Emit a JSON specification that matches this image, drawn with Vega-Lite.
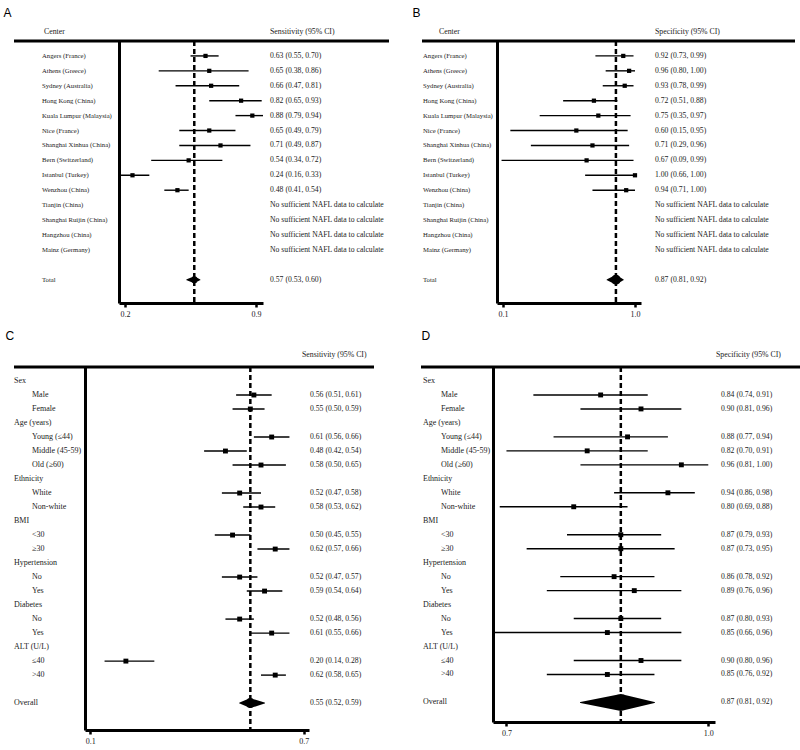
{
"$schema":"https://vega.github.io/schema/vega-lite/v6.json",
"padding":{"left":3,"top":7,"right":2,"bottom":2},
"config":{"view":{"stroke":null},"title":{"font":"Liberation Sans","fontSize":12,"fontWeight":"normal","color":"black","anchor":"start","offset":8}},
"datasets":{
"A":[
{"id":"angers","label":"Angers (France)","est":0.63,"lo":0.55,"hi":0.70},
{"id":"athens","label":"Athens (Greece)","est":0.65,"lo":0.38,"hi":0.86},
{"id":"sydney","label":"Sydney (Australia)","est":0.66,"lo":0.47,"hi":0.81},
{"id":"hk","label":"Hong Kong (China)","est":0.82,"lo":0.65,"hi":0.93},
{"id":"kl","label":"Kuala Lumpur (Malaysia)","est":0.88,"lo":0.79,"hi":0.94},
{"id":"nice","label":"Nice (France)","est":0.65,"lo":0.49,"hi":0.79},
{"id":"sx","label":"Shanghai Xinhua (China)","est":0.71,"lo":0.49,"hi":0.87},
{"id":"bern","label":"Bern (Switzerland)","est":0.54,"lo":0.34,"hi":0.72},
{"id":"istanbul","label":"Istanbul (Turkey)","est":0.24,"lo":0.16,"hi":0.33},
{"id":"wenzhou","label":"Wenzhou (China)","est":0.48,"lo":0.41,"hi":0.54},
{"id":"tianjin","label":"Tianjin (China)","note":"No sufficient NAFL data to calculate"},
{"id":"ruijin","label":"Shanghai Ruijin (China)","note":"No sufficient NAFL data to calculate"},
{"id":"hangzhou","label":"Hangzhou (China)","note":"No sufficient NAFL data to calculate"},
{"id":"mainz","label":"Mainz (Germany)","note":"No sufficient NAFL data to calculate"},
{"id":"total","label":"Total","est":0.57,"lo":0.53,"hi":0.60,"pooled":true}
],
"B":[
{"id":"angers","label":"Angers (France)","est":0.92,"lo":0.73,"hi":0.99},
{"id":"athens","label":"Athens (Greece)","est":0.96,"lo":0.80,"hi":1.00},
{"id":"sydney","label":"Sydney (Australia)","est":0.93,"lo":0.78,"hi":0.99},
{"id":"hk","label":"Hong Kong (China)","est":0.72,"lo":0.51,"hi":0.88},
{"id":"kl","label":"Kuala Lumpur (Malaysia)","est":0.75,"lo":0.35,"hi":0.97},
{"id":"nice","label":"Nice (France)","est":0.60,"lo":0.15,"hi":0.95},
{"id":"sx","label":"Shanghai Xinhua (China)","est":0.71,"lo":0.29,"hi":0.96},
{"id":"bern","label":"Bern (Switzerland)","est":0.67,"lo":0.09,"hi":0.99},
{"id":"istanbul","label":"Istanbul (Turkey)","est":1.00,"lo":0.66,"hi":1.00},
{"id":"wenzhou","label":"Wenzhou (China)","est":0.94,"lo":0.71,"hi":1.00},
{"id":"tianjin","label":"Tianjin (China)","note":"No sufficient NAFL data to calculate"},
{"id":"ruijin","label":"Shanghai Ruijin (China)","note":"No sufficient NAFL data to calculate"},
{"id":"hangzhou","label":"Hangzhou (China)","note":"No sufficient NAFL data to calculate"},
{"id":"mainz","label":"Mainz (Germany)","note":"No sufficient NAFL data to calculate"},
{"id":"total","label":"Total","est":0.87,"lo":0.81,"hi":0.92,"pooled":true}
],
"C":[
{"id":"sex","label":"Sex","heading":true},
{"id":"male","label":"Male","est":0.56,"lo":0.51,"hi":0.61},
{"id":"female","label":"Female","est":0.55,"lo":0.50,"hi":0.59},
{"id":"age","label":"Age (years)","heading":true},
{"id":"young","label":"Young (≤44)","est":0.61,"lo":0.56,"hi":0.66},
{"id":"middle","label":"Middle (45-59)","est":0.48,"lo":0.42,"hi":0.54},
{"id":"old","label":"Old (≥60)","est":0.58,"lo":0.50,"hi":0.65},
{"id":"eth","label":"Ethnicity","heading":true},
{"id":"white","label":"White","est":0.52,"lo":0.47,"hi":0.58},
{"id":"nonwhite","label":"Non-white","est":0.58,"lo":0.53,"hi":0.62},
{"id":"bmi","label":"BMI","heading":true},
{"id":"bmi_lo","label":"<30","est":0.50,"lo":0.45,"hi":0.55},
{"id":"bmi_hi","label":"≥30","est":0.62,"lo":0.57,"hi":0.66},
{"id":"ht","label":"Hypertension","heading":true},
{"id":"ht_no","label":"No","est":0.52,"lo":0.47,"hi":0.57},
{"id":"ht_yes","label":"Yes","est":0.59,"lo":0.54,"hi":0.64},
{"id":"db","label":"Diabetes","heading":true},
{"id":"db_no","label":"No","est":0.52,"lo":0.48,"hi":0.56},
{"id":"db_yes","label":"Yes","est":0.61,"lo":0.55,"hi":0.66},
{"id":"alt","label":"ALT (U/L)","heading":true},
{"id":"alt_lo","label":"≤40","est":0.20,"lo":0.14,"hi":0.28},
{"id":"alt_hi","label":">40","est":0.62,"lo":0.58,"hi":0.65},
{"id":"overall","label":"Overall","est":0.55,"lo":0.52,"hi":0.59,"pooled":true}
],
"D":[
{"id":"sex","label":"Sex","heading":true},
{"id":"male","label":"Male","est":0.84,"lo":0.74,"hi":0.91},
{"id":"female","label":"Female","est":0.90,"lo":0.81,"hi":0.96},
{"id":"age","label":"Age (years)","heading":true},
{"id":"young","label":"Young (≤44)","est":0.88,"lo":0.77,"hi":0.94},
{"id":"middle","label":"Middle (45-59)","est":0.82,"lo":0.70,"hi":0.91},
{"id":"old","label":"Old (≥60)","est":0.96,"lo":0.81,"hi":1.00},
{"id":"eth","label":"Ethnicity","heading":true},
{"id":"white","label":"White","est":0.94,"lo":0.86,"hi":0.98},
{"id":"nonwhite","label":"Non-white","est":0.80,"lo":0.69,"hi":0.88},
{"id":"bmi","label":"BMI","heading":true},
{"id":"bmi_lo","label":"<30","est":0.87,"lo":0.79,"hi":0.93},
{"id":"bmi_hi","label":"≥30","est":0.87,"lo":0.73,"hi":0.95},
{"id":"ht","label":"Hypertension","heading":true},
{"id":"ht_no","label":"No","est":0.86,"lo":0.78,"hi":0.92},
{"id":"ht_yes","label":"Yes","est":0.89,"lo":0.76,"hi":0.96},
{"id":"db","label":"Diabetes","heading":true},
{"id":"db_no","label":"No","est":0.87,"lo":0.80,"hi":0.93},
{"id":"db_yes","label":"Yes","est":0.85,"lo":0.66,"hi":0.96},
{"id":"alt","label":"ALT (U/L)","heading":true},
{"id":"alt_lo","label":"≤40","est":0.90,"lo":0.80,"hi":0.96},
{"id":"alt_hi","label":">40","est":0.85,"lo":0.76,"hi":0.92},
{"id":"overall","label":"Overall","est":0.87,"lo":0.81,"hi":0.92,"pooled":true}
]
},
"spacing":12,
"vconcat":[
{"spacing":21,"hconcat":[
{"title":{"text":"A","dx":-9},"spacing":0,"bounds":"flush","hconcat":[
 {"width":105,"height":262,"data":{"name":"A"},"layer":[
  {"mark":{"type":"text","align":"left","baseline":"middle","x":28,"font":"Liberation Serif","fontSize":6.7,"fill":"#222"},
   "encoding":{"y":{"field":"id","type":"nominal","scale":{"type":"point","domain":["hdr","angers","athens","sydney","hk","kl","nice","sx","bern","istanbul","wenzhou","tianjin","ruijin","hangzhou","mainz","gap","total"],"padding":0.78,"align":0},"axis":null},"text":{"field":"label"}}},
  {"data":{"values":[{}]},"mark":{"type":"rule","strokeWidth":3,"color":"black"},"encoding":{"y":{"datum":"hdr","type":"nominal","axis":null}}},
  {"data":{"values":[{"h":"Center"}]},"mark":{"type":"text","align":"left","baseline":"bottom","dy":-5,"x":30,"font":"Liberation Serif","fontSize":7.8,"fill":"#222"},"encoding":{"y":{"datum":"hdr","type":"nominal","axis":null},"text":{"field":"h"}}}
 ]},
 {"width":144,"height":262,"data":{"name":"A"},"layer":[
  {"data":{"values":[{}]},"mark":{"type":"rule","strokeWidth":3,"color":"black"},"encoding":{"y":{"datum":"hdr","type":"nominal","scale":{"type":"point","domain":["hdr","angers","athens","sydney","hk","kl","nice","sx","bern","istanbul","wenzhou","tianjin","ruijin","hangzhou","mainz","gap","total"],"padding":0.78,"align":0},"axis":{"title":null,"labels":false,"ticks":false,"grid":false,"domainWidth":3,"domainColor":"black"}}}},
  {"transform":[{"filter":"datum.pooled"}],"mark":{"type":"rule","strokeDash":[5,3],"strokeWidth":2.5,"color":"black"},"encoding":{"x":{"field":"est","type":"quantitative","scale":{"domain":[0.168,0.937],"nice":false,"zero":false},"axis":{"values":[0.2,0.9],"format":".1f","title":null,"grid":false,"domainWidth":3,"domainColor":"black","tickColor":"black","tickWidth":2.5,"tickSize":4,"labelFont":"Liberation Serif","labelFontSize":8,"labelColor":"#222","labelPadding":3,"labelFlush":false,"labelOverlap":false}}}},
  {"transform":[{"filter":"datum.est != null && !datum.pooled"}],"mark":{"type":"rule","strokeWidth":1.4,"color":"black","clip":true},"encoding":{"x":{"field":"lo","type":"quantitative"},"x2":{"field":"hi"},"y":{"field":"id","type":"nominal"}}},
  {"transform":[{"filter":"datum.est != null && !datum.pooled"}],"mark":{"type":"point","shape":"square","filled":true,"size":18,"color":"black","opacity":1,"clip":true},"encoding":{"x":{"field":"est","type":"quantitative"},"y":{"field":"id","type":"nominal"}}},
  {"transform":[{"filter":"datum.pooled"},{"fold":["lo","est","hi"],"as":["k","v"]}],"mark":{"type":"trail","color":"black"},"encoding":{"x":{"field":"v","type":"quantitative"},"y":{"field":"id","type":"nominal"},"order":{"field":"v","type":"quantitative"},"size":{"condition":{"test":"datum.k === 'est'","value":7},"value":0}}}
 ]},
 {"width":126,"height":262,"data":{"name":"A"},"layer":[
  {"transform":[{"calculate":"datum.est != null ? format(datum.est,'.2f') + ' (' + format(datum.lo,'.2f') + ', ' + format(datum.hi,'.2f') + ')' : (datum.note ? datum.note : '')","as":"txt"},{"filter":"datum.txt != ''"}],"mark":{"type":"text","align":"left","baseline":"middle","x":7,"font":"Liberation Serif","fontSize":7.7,"fill":"#222"},
   "encoding":{"y":{"field":"id","type":"nominal","scale":{"type":"point","domain":["hdr","angers","athens","sydney","hk","kl","nice","sx","bern","istanbul","wenzhou","tianjin","ruijin","hangzhou","mainz","gap","total"],"padding":0.78,"align":0},"axis":null},"text":{"field":"txt"}}},
  {"data":{"values":[{}]},"mark":{"type":"rule","strokeWidth":3,"color":"black"},"encoding":{"y":{"datum":"hdr","type":"nominal","axis":null}}},
  {"data":{"values":[{"h":"Sensitivity (95% CI)"}]},"mark":{"type":"text","align":"left","baseline":"bottom","dy":-5,"x":7,"font":"Liberation Serif","fontSize":7.8,"fill":"#222"},"encoding":{"y":{"datum":"hdr","type":"nominal","axis":null},"text":{"field":"h"}}}
 ]}
]},
{"title":{"text":"B","dx":-8},"spacing":0,"bounds":"flush","hconcat":[
 {"width":75,"height":262,"data":{"name":"B"},"layer":[
  {"mark":{"type":"text","align":"left","baseline":"middle","x":1,"font":"Liberation Serif","fontSize":6.7,"fill":"#222"},
   "encoding":{"y":{"field":"id","type":"nominal","scale":{"type":"point","domain":["hdr","angers","athens","sydney","hk","kl","nice","sx","bern","istanbul","wenzhou","tianjin","ruijin","hangzhou","mainz","gap","total"],"padding":0.78,"align":0},"axis":null},"text":{"field":"label"}}},
  {"data":{"values":[{}]},"mark":{"type":"rule","strokeWidth":3,"color":"black"},"encoding":{"y":{"datum":"hdr","type":"nominal","axis":null}}},
  {"data":{"values":[{"h":"Center"}]},"mark":{"type":"text","align":"left","baseline":"bottom","dy":-5,"x":17,"font":"Liberation Serif","fontSize":7.8,"fill":"#222"},"encoding":{"y":{"datum":"hdr","type":"nominal","axis":null},"text":{"field":"h"}}}
 ]},
 {"width":144,"height":262,"data":{"name":"B"},"layer":[
  {"data":{"values":[{}]},"mark":{"type":"rule","strokeWidth":3,"color":"black"},"encoding":{"y":{"datum":"hdr","type":"nominal","scale":{"type":"point","domain":["hdr","angers","athens","sydney","hk","kl","nice","sx","bern","istanbul","wenzhou","tianjin","ruijin","hangzhou","mainz","gap","total"],"padding":0.78,"align":0},"axis":{"title":null,"labels":false,"ticks":false,"grid":false,"domainWidth":3,"domainColor":"black"}}}},
  {"transform":[{"filter":"datum.pooled"}],"mark":{"type":"rule","strokeDash":[5,3],"strokeWidth":2.5,"color":"black"},"encoding":{"x":{"field":"est","type":"quantitative","scale":{"domain":[0.059,1.041],"nice":false,"zero":false},"axis":{"values":[0.1,1.0],"format":".1f","title":null,"grid":false,"domainWidth":3,"domainColor":"black","tickColor":"black","tickWidth":2.5,"tickSize":4,"labelFont":"Liberation Serif","labelFontSize":8,"labelColor":"#222","labelPadding":3,"labelFlush":false,"labelOverlap":false}}}},
  {"transform":[{"filter":"datum.est != null && !datum.pooled"}],"mark":{"type":"rule","strokeWidth":1.4,"color":"black","clip":true},"encoding":{"x":{"field":"lo","type":"quantitative"},"x2":{"field":"hi"},"y":{"field":"id","type":"nominal"}}},
  {"transform":[{"filter":"datum.est != null && !datum.pooled"}],"mark":{"type":"point","shape":"square","filled":true,"size":18,"color":"black","opacity":1,"clip":true},"encoding":{"x":{"field":"est","type":"quantitative"},"y":{"field":"id","type":"nominal"}}},
  {"transform":[{"filter":"datum.pooled"},{"fold":["lo","est","hi"],"as":["k","v"]}],"mark":{"type":"trail","color":"black"},"encoding":{"x":{"field":"v","type":"quantitative"},"y":{"field":"id","type":"nominal"},"order":{"field":"v","type":"quantitative"},"size":{"condition":{"test":"datum.k === 'est'","value":10},"value":0}}}
 ]},
 {"width":154,"height":262,"data":{"name":"B"},"layer":[
  {"transform":[{"calculate":"datum.est != null ? format(datum.est,'.2f') + ' (' + format(datum.lo,'.2f') + ', ' + format(datum.hi,'.2f') + ')' : (datum.note ? datum.note : '')","as":"txt"},{"filter":"datum.txt != ''"}],"mark":{"type":"text","align":"left","baseline":"middle","x":14,"font":"Liberation Serif","fontSize":7.7,"fill":"#222"},
   "encoding":{"y":{"field":"id","type":"nominal","scale":{"type":"point","domain":["hdr","angers","athens","sydney","hk","kl","nice","sx","bern","istanbul","wenzhou","tianjin","ruijin","hangzhou","mainz","gap","total"],"padding":0.78,"align":0},"axis":null},"text":{"field":"txt"}}},
  {"data":{"values":[{}]},"mark":{"type":"rule","strokeWidth":3,"color":"black"},"encoding":{"y":{"datum":"hdr","type":"nominal","axis":null}}},
  {"data":{"values":[{"h":"Specificity (95% CI)"}]},"mark":{"type":"text","align":"left","baseline":"bottom","dy":-5,"x":14,"font":"Liberation Serif","fontSize":7.8,"fill":"#222"},"encoding":{"y":{"datum":"hdr","type":"nominal","axis":null},"text":{"field":"h"}}}
 ]}
]}
]},
{"spacing":43,"hconcat":[
{"title":{"text":"C","dx":-7},"spacing":0,"bounds":"flush","hconcat":[
 {"width":71,"height":363,"data":{"name":"C"},"layer":[
  {"transform":[{"filter":"datum.heading || datum.pooled"}],"mark":{"type":"text","align":"left","baseline":"middle","x":0,"font":"Liberation Serif","fontSize":8,"fill":"#222"},
   "encoding":{"y":{"field":"id","type":"nominal","scale":{"type":"point","domain":["hdr","sex","male","female","age","young","middle","old","eth","white","nonwhite","bmi","bmi_lo","bmi_hi","ht","ht_no","ht_yes","db","db_no","db_yes","alt","alt_lo","alt_hi","gap","overall"],"padding":0.96,"align":0},"axis":null},"text":{"field":"label"}}},
  {"transform":[{"filter":"!datum.heading && !datum.pooled"}],"mark":{"type":"text","align":"left","baseline":"middle","x":18,"font":"Liberation Serif","fontSize":8,"fill":"#222"},
   "encoding":{"y":{"field":"id","type":"nominal","axis":null},"text":{"field":"label"}}},
  {"data":{"values":[{}]},"mark":{"type":"rule","strokeWidth":3,"color":"black"},"encoding":{"y":{"datum":"hdr","type":"nominal","axis":null}}}
 ]},
 {"width":224,"height":363,"data":{"name":"C"},"layer":[
  {"data":{"values":[{}]},"mark":{"type":"rule","strokeWidth":3,"color":"black"},"encoding":{"y":{"datum":"hdr","type":"nominal","scale":{"type":"point","domain":["hdr","sex","male","female","age","young","middle","old","eth","white","nonwhite","bmi","bmi_lo","bmi_hi","ht","ht_no","ht_yes","db","db_no","db_yes","alt","alt_lo","alt_hi","gap","overall"],"padding":0.96,"align":0},"axis":{"title":null,"labels":false,"ticks":false,"grid":false,"domainWidth":3,"domainColor":"black"}}}},
  {"transform":[{"filter":"datum.pooled"}],"mark":{"type":"rule","strokeDash":[5,3],"strokeWidth":2.5,"color":"black"},"encoding":{"x":{"field":"est","type":"quantitative","scale":{"domain":[0.085,0.715],"nice":false,"zero":false},"axis":{"values":[0.1,0.7],"format":".1f","title":null,"grid":false,"domainWidth":3,"domainColor":"black","tickColor":"black","tickWidth":2.5,"tickSize":4,"labelFont":"Liberation Serif","labelFontSize":8,"labelColor":"#222","labelPadding":3,"labelFlush":false,"labelOverlap":false}}}},
  {"transform":[{"filter":"datum.est != null && !datum.pooled"}],"mark":{"type":"rule","strokeWidth":1.4,"color":"black","clip":true},"encoding":{"x":{"field":"lo","type":"quantitative"},"x2":{"field":"hi"},"y":{"field":"id","type":"nominal"}}},
  {"transform":[{"filter":"datum.est != null && !datum.pooled"}],"mark":{"type":"point","shape":"square","filled":true,"size":24,"color":"black","opacity":1,"clip":true},"encoding":{"x":{"field":"est","type":"quantitative"},"y":{"field":"id","type":"nominal"}}},
  {"transform":[{"filter":"datum.pooled"},{"fold":["lo","est","hi"],"as":["k","v"]}],"mark":{"type":"trail","color":"black"},"encoding":{"x":{"field":"v","type":"quantitative"},"y":{"field":"id","type":"nominal"},"order":{"field":"v","type":"quantitative"},"size":{"condition":{"test":"datum.k === 'est'","value":10},"value":0}}}
 ]},
 {"width":65,"height":363,"data":{"name":"C"},"layer":[
  {"transform":[{"calculate":"datum.est != null ? format(datum.est,'.2f') + ' (' + format(datum.lo,'.2f') + ', ' + format(datum.hi,'.2f') + ')' : ''","as":"txt"},{"filter":"datum.txt != ''"}],"mark":{"type":"text","align":"left","baseline":"middle","x":1,"font":"Liberation Serif","fontSize":7.7,"fill":"#222"},
   "encoding":{"y":{"field":"id","type":"nominal","scale":{"type":"point","domain":["hdr","sex","male","female","age","young","middle","old","eth","white","nonwhite","bmi","bmi_lo","bmi_hi","ht","ht_no","ht_yes","db","db_no","db_yes","alt","alt_lo","alt_hi","gap","overall"],"padding":0.96,"align":0},"axis":null},"text":{"field":"txt"}}},
  {"data":{"values":[{}]},"mark":{"type":"rule","strokeWidth":3,"color":"black"},"encoding":{"y":{"datum":"hdr","type":"nominal","axis":null}}},
  {"data":{"values":[{"h":"Sensitivity (95% CI)"}]},"mark":{"type":"text","align":"left","baseline":"bottom","dy":-8,"x":-7,"font":"Liberation Serif","fontSize":7.8,"fill":"#222"},"encoding":{"y":{"datum":"hdr","type":"nominal","axis":null},"text":{"field":"h"}}}
 ]}
]},
{"title":{"text":"D","dx":2},"spacing":0,"bounds":"flush","hconcat":[
 {"width":72,"height":355,"data":{"name":"D"},"layer":[
  {"transform":[{"filter":"datum.heading || datum.pooled"}],"mark":{"type":"text","align":"left","baseline":"middle","x":2,"font":"Liberation Serif","fontSize":8,"fill":"#222"},
   "encoding":{"y":{"field":"id","type":"nominal","scale":{"type":"point","domain":["hdr","sex","male","female","age","young","middle","old","eth","white","nonwhite","bmi","bmi_lo","bmi_hi","ht","ht_no","ht_yes","db","db_no","db_yes","alt","alt_lo","alt_hi","gap","overall"],"padding":0.7,"align":0},"axis":null},"text":{"field":"label"}}},
  {"transform":[{"filter":"!datum.heading && !datum.pooled"}],"mark":{"type":"text","align":"left","baseline":"middle","x":20,"font":"Liberation Serif","fontSize":8,"fill":"#222"},
   "encoding":{"y":{"field":"id","type":"nominal","axis":null},"text":{"field":"label"}}},
  {"data":{"values":[{}]},"mark":{"type":"rule","strokeWidth":3,"color":"black"},"encoding":{"y":{"datum":"hdr","type":"nominal","axis":null}}}
 ]},
 {"width":222,"height":355,"data":{"name":"D"},"layer":[
  {"data":{"values":[{}]},"mark":{"type":"rule","strokeWidth":3,"color":"black"},"encoding":{"y":{"datum":"hdr","type":"nominal","scale":{"type":"point","domain":["hdr","sex","male","female","age","young","middle","old","eth","white","nonwhite","bmi","bmi_lo","bmi_hi","ht","ht_no","ht_yes","db","db_no","db_yes","alt","alt_lo","alt_hi","gap","overall"],"padding":0.7,"align":0},"axis":{"title":null,"labels":false,"ticks":false,"grid":false,"domainWidth":3,"domainColor":"black"}}}},
  {"transform":[{"filter":"datum.pooled"}],"mark":{"type":"rule","strokeDash":[5,3],"strokeWidth":2.5,"color":"black"},"encoding":{"x":{"field":"est","type":"quantitative","scale":{"domain":[0.68,1.01],"nice":false,"zero":false},"axis":{"values":[0.7,1.0],"format":".1f","title":null,"grid":false,"domainWidth":3,"domainColor":"black","tickColor":"black","tickWidth":2.5,"tickSize":4,"labelFont":"Liberation Serif","labelFontSize":8,"labelColor":"#222","labelPadding":3,"labelFlush":false,"labelOverlap":false}}}},
  {"transform":[{"filter":"datum.est != null && !datum.pooled"}],"mark":{"type":"rule","strokeWidth":1.4,"color":"black","clip":true},"encoding":{"x":{"field":"lo","type":"quantitative"},"x2":{"field":"hi"},"y":{"field":"id","type":"nominal"}}},
  {"transform":[{"filter":"datum.est != null && !datum.pooled"}],"mark":{"type":"point","shape":"square","filled":true,"size":24,"color":"black","opacity":1,"clip":true},"encoding":{"x":{"field":"est","type":"quantitative"},"y":{"field":"id","type":"nominal"}}},
  {"transform":[{"filter":"datum.pooled"},{"fold":["lo","est","hi"],"as":["k","v"]}],"mark":{"type":"trail","color":"black"},"encoding":{"x":{"field":"v","type":"quantitative"},"y":{"field":"id","type":"nominal"},"order":{"field":"v","type":"quantitative"},"size":{"condition":{"test":"datum.k === 'est'","value":17},"value":0}}}
 ]},
 {"width":86,"height":355,"data":{"name":"D"},"layer":[
  {"transform":[{"calculate":"datum.est != null ? format(datum.est,'.2f') + ' (' + format(datum.lo,'.2f') + ', ' + format(datum.hi,'.2f') + ')' : ''","as":"txt"},{"filter":"datum.txt != ''"}],"mark":{"type":"text","align":"left","baseline":"middle","x":6,"font":"Liberation Serif","fontSize":7.7,"fill":"#222"},
   "encoding":{"y":{"field":"id","type":"nominal","scale":{"type":"point","domain":["hdr","sex","male","female","age","young","middle","old","eth","white","nonwhite","bmi","bmi_lo","bmi_hi","ht","ht_no","ht_yes","db","db_no","db_yes","alt","alt_lo","alt_hi","gap","overall"],"padding":0.7,"align":0},"axis":null},"text":{"field":"txt"}}},
  {"data":{"values":[{}]},"mark":{"type":"rule","strokeWidth":3,"color":"black"},"encoding":{"y":{"datum":"hdr","type":"nominal","axis":null}}},
  {"data":{"values":[{"h":"Specificity (95% CI)"}]},"mark":{"type":"text","align":"left","baseline":"bottom","dy":-8,"x":1,"font":"Liberation Serif","fontSize":7.8,"fill":"#222"},"encoding":{"y":{"datum":"hdr","type":"nominal","axis":null},"text":{"field":"h"}}}
 ]}
]}
]}
]
}
